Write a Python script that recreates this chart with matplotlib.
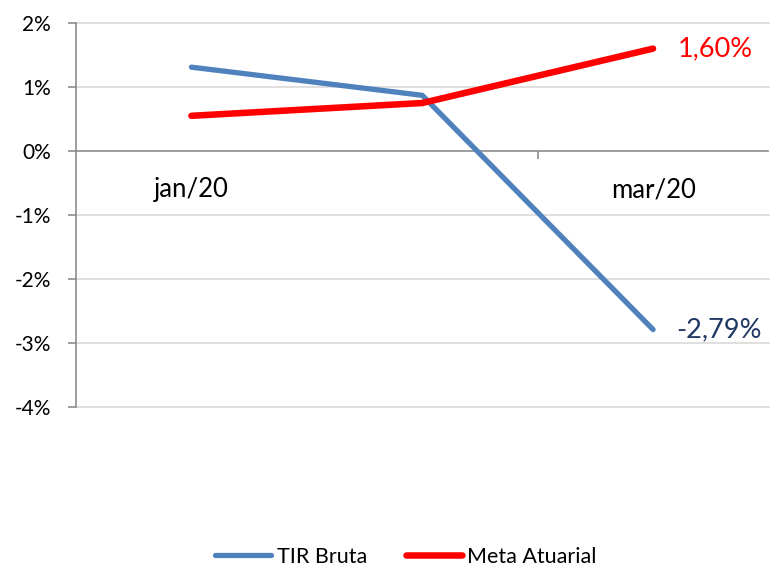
import matplotlib
matplotlib.use("Agg")
import matplotlib.pyplot as plt
import numpy as np

# data (in %)
months = ["jan/20", "fev/20", "mar/20"]
shown_labels = ["jan/20", "", "mar/20"]
tir_bruta = [1.31, 0.87, -2.79]
meta_atuarial = [0.55, 0.75, 1.60]
tir_label = "-2,79%"
meta_label = "1,60%"
yticks = [-4, -3, -2, -1, 0, 1, 2]
ytick_labels = ["-4%", "-3%", "-2%", "-1%", "0%", "1%", "2%"]

plt.rcParams["font.family"] = ["Lato", "DejaVu Sans"]

blue = "#4F81BD"
red = "#FF0000"
axis_gray = "#8C8C8C"
grid_gray = "#D9D9D9"

fig = plt.figure(figsize=(7.71, 5.67), dpi=100)
ax = fig.add_axes([76/771, 1-407/567, (768.5-76)/771, (407-23)/567])

x = np.arange(len(months))
ax.plot(x, tir_bruta, color=blue, lw=3.8, solid_capstyle="round",
        solid_joinstyle="round", label="TIR Bruta", zorder=3)
ax.plot(x, meta_atuarial, color=red, lw=4.7, solid_capstyle="round",
        solid_joinstyle="round", label="Meta Atuarial", zorder=4)

ax.set_xlim(-0.5, 2.5)
ax.set_ylim(-4, 2)
ax.set_yticks(yticks)
ax.set_yticklabels(ytick_labels, fontsize=15)
for yv in yticks:
    if yv != 0:
        ax.axhline(yv, color=grid_gray, lw=1.2, zorder=1, clip_on=False)

for s in ["top", "right"]:
    ax.spines[s].set_visible(False)
ax.spines["left"].set_color(axis_gray)
ax.spines["left"].set_linewidth(1.2)
ax.spines["bottom"].set_position(("data", 0))
ax.spines["bottom"].set_color(axis_gray)
ax.spines["bottom"].set_linewidth(1.2)
ax.tick_params(axis="y", length=6, width=1.2, color=axis_gray, pad=12)
ax.set_xticks([1.5])
ax.set_xticklabels([""])
ax.tick_params(axis="x", length=6, width=1.2, color=axis_gray)

# category labels under the zero line
for i, lab in enumerate(shown_labels):
    if lab:
        ax.annotate(lab, xy=(i, 0), xytext=(0, -28), textcoords="offset points",
                    ha="center", va="center", fontsize=18.5)

# end labels
ax.annotate(meta_label, xy=(x[-1], meta_atuarial[-1]), xytext=(18, 0),
            textcoords="offset points", ha="left", va="center",
            fontsize=19.5, color=red)
ax.annotate(tir_label, xy=(x[-1], tir_bruta[-1]), xytext=(17, 0),
            textcoords="offset points", ha="left", va="center",
            fontsize=19.5, color="#1F3864")

fig.legend(loc="center", bbox_to_anchor=(406/771, 1-557/567), ncol=2,
           frameon=False, fontsize=15.5, handlelength=2.6, handletextpad=0.25,
           columnspacing=1.8)

fig.savefig("out.png", dpi=100)
